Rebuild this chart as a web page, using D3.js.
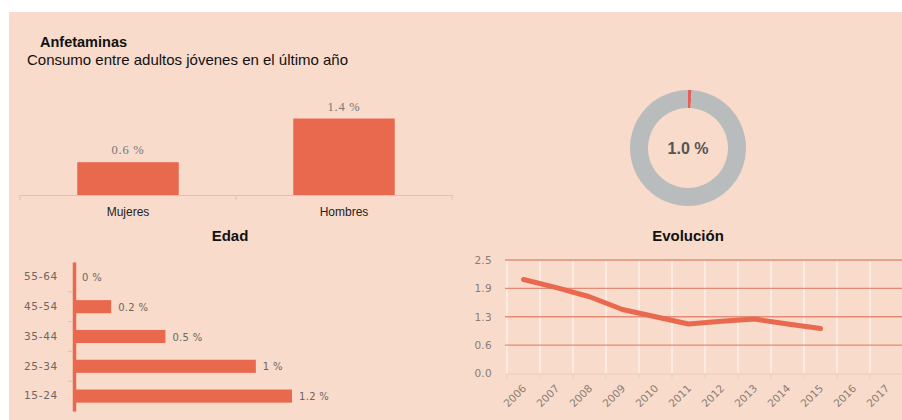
<!DOCTYPE html>
<html><head><meta charset="utf-8">
<script src="https://cdn.jsdelivr.net/npm/d3@7/dist/d3.min.js"></script>
<style>
html,body{margin:0;padding:0;background:#fff;}
svg{display:block;}
</style></head>
<body>
<script>
// ---- data ----
const title = "Anfetaminas";
const subtitle = "Consumo entre adultos jóvenes en el último año";
const sexCategories = ["Mujeres", "Hombres"];
const sexValues = [0.6, 1.4];
const sexLabels = ["0.6 %", "1.4 %"];
const donutValue = 1.0;
const donutLabel = "1.0 %";
const ageCategories = ["55-64", "45-54", "35-44", "25-34", "15-24"];
const ageValues = [0, 0.2, 0.5, 1, 1.2];
const ageLabels = ["0 %", "0.2 %", "0.5 %", "1 %", "1.2 %"];
const years = ["2006","2007","2008","2009","2010","2011","2012","2013","2014","2015","2016","2017"];
const evoValues = [2.07, 1.89, 1.69, 1.41, 1.25, 1.09, 1.15, 1.20, 1.09, 0.99, null, null];
const evoTicks = [0, 0.625, 1.25, 1.875, 2.5];
const evoTickLabels = ["0.0", "0.6", "1.3", "1.9", "2.5"];

const W = 902, H = 420;
const BG = "#f8dbcb", BAR = "#e8694e";
const SANS = "Liberation Sans, Arial, sans-serif";
const svg = d3.select("body").append("svg").attr("width", W).attr("height", H);
svg.append("rect").attr("x", 9).attr("y", 12).attr("width", W - 9).attr("height", H - 12).attr("fill", BG);

// titles
svg.append("text").attr("x", 40).attr("y", 47).attr("font-family", SANS)
  .attr("font-weight", "bold").attr("font-size", 14.5).attr("fill", "#111").text(title);
svg.append("text").attr("x", 27).attr("y", 65).attr("font-family", SANS)
  .attr("font-size", 15).attr("fill", "#111").text(subtitle);

// ---- sex bar chart ----
const xs = d3.scaleBand().domain(sexCategories).range([20, 452]).paddingInner(0.53).paddingOuter(0.265);
const ys = d3.scaleLinear().domain([0, 1.6]).range([195, 107.6]);
const gs = svg.append("g");
gs.selectAll("rect.b").data(sexValues).join("rect").attr("class", "b")
  .attr("x", (d, i) => xs(sexCategories[i])).attr("width", xs.bandwidth())
  .attr("y", d => ys(d)).attr("height", d => ys(0) - ys(d)).attr("fill", BAR);
const axS = d3.axisBottom(xs).tickSize(0).tickPadding(12);
const gax = gs.append("g").attr("transform", "translate(0,195)").call(axS);
gax.select(".domain").attr("stroke", "#d9c3b8").attr("stroke-width", 1);
gax.selectAll("text").attr("font-family", SANS).attr("font-size", 12).attr("fill", "#222");
// tick separators
[20, 236, 452].forEach(x => gs.append("line").attr("x1", x).attr("x2", x).attr("y1", 195).attr("y2", 200).attr("stroke", "#d9c3b8"));
gs.selectAll("text.v").data(sexValues).join("text").attr("class", "v")
  .attr("x", (d, i) => xs(sexCategories[i]) + xs.bandwidth() / 2).attr("y", d => ys(d) - 8)
  .attr("text-anchor", "middle").attr("font-family", "Liberation Serif, serif").attr("font-size", 12.5)
  .attr("letter-spacing", 0.8).attr("fill", "#777").text((d, i) => sexLabels[i]);

// ---- donut ----
const cx = 688, cy = 148;
const arc = d3.arc().innerRadius(40).outerRadius(58);
const pie = d3.pie().sort(null)([donutValue, 100 - donutValue]);
svg.append("g").attr("transform", `translate(${cx},${cy})`).selectAll("path").data(pie).join("path")
  .attr("d", arc).attr("fill", (d, i) => i === 0 ? "#e0605a" : "#b9bcbc");
svg.append("text").attr("x", cx).attr("y", cy + 6).attr("text-anchor", "middle")
  .attr("font-family", SANS).attr("font-weight", "bold").attr("font-size", 16)
  .attr("fill", "#555").text(donutLabel);

// ---- Edad ----
svg.append("text").attr("x", 230).attr("y", 241).attr("text-anchor", "middle")
  .attr("font-family", SANS).attr("font-weight", "bold").attr("font-size", 15)
  .attr("fill", "#111").text("Edad");
const xa = d3.scaleLinear().domain([0, 1.2]).range([75, 292]);
const ya = d3.scaleBand().domain(ageCategories).range([262, 411]).paddingInner(0.56).paddingOuter(0.28);
const ga = svg.append("g");
ga.selectAll("rect").data(ageValues).join("rect")
  .attr("x", xa(0)).attr("y", (d, i) => ya(ageCategories[i])).attr("height", ya.bandwidth())
  .attr("width", d => xa(d) - xa(0)).attr("fill", BAR);
const axA = d3.axisLeft(ya).tickSize(0).tickPadding(16);
const gaa = ga.append("g").attr("transform", `translate(${xa(0) - 1},0)`).call(axA);
gaa.select(".domain").attr("stroke", BAR).attr("stroke-width", 3.5);
gaa.selectAll("text").attr("font-family", "DejaVu Sans, sans-serif").attr("font-size", 10.5)
  .attr("letter-spacing", 0.7).attr("fill", "#6e6661");
// small separators
ageCategories.slice(1).forEach(c => ga.append("line").attr("x1", 68).attr("x2", 73)
  .attr("y1", ya(c) - ya.step() * ya.paddingInner() / 2).attr("y2", ya(c) - ya.step() * ya.paddingInner() / 2)
  .attr("stroke", "#d9c3b8"));
ga.selectAll("text.v").data(ageValues).join("text").attr("class", "v")
  .attr("x", d => xa(d) + 7).attr("y", (d, i) => ya(ageCategories[i]) + ya.bandwidth() / 2 + 4)
  .attr("font-family", "DejaVu Sans, sans-serif").attr("font-size", 10).attr("letter-spacing", 0.3)
  .attr("fill", "#6e6661").text((d, i) => ageLabels[i]);

// ---- Evolución ----
svg.append("text").attr("x", 688).attr("y", 241).attr("text-anchor", "middle")
  .attr("font-family", SANS).attr("font-weight", "bold").attr("font-size", 15)
  .attr("fill", "#111").text("Evolución");
const xe = d3.scaleBand().domain(years).range([507, 903]);
const ye = d3.scaleLinear().domain([0, 2.5]).range([373.5, 260]);
const ge = svg.append("g");
// vertical white grid
ge.selectAll("line.vg").data(years).join("line").attr("class", "vg")
  .attr("x1", d => xe(d)).attr("x2", d => xe(d)).attr("y1", 260).attr("y2", 373.5)
  .attr("stroke", "#fdf0ea").attr("stroke-width", 1.5);
// horizontal grid
ge.selectAll("line.hg").data(evoTicks.slice(1)).join("line").attr("class", "hg")
  .attr("x1", 505).attr("x2", W).attr("y1", d => ye(d)).attr("y2", d => ye(d))
  .attr("stroke", "#e38b77").attr("stroke-width", 1.3);
// y axis labels
const axY = d3.axisLeft(ye).tickValues(evoTicks).tickFormat((d, i) => evoTickLabels[i]).tickSize(0).tickPadding(15);
const gey = ge.append("g").attr("transform", "translate(507,0)").call(axY);
gey.select(".domain").remove();
gey.selectAll("text").attr("font-family", "DejaVu Sans, sans-serif").attr("font-size", 10.5)
  .attr("letter-spacing", 0.3).attr("fill", "#8a7d76");
// x axis
const axX = d3.axisBottom(xe).tickSize(0).tickPadding(0);
const gex = ge.append("g").attr("transform", "translate(0,373.5)").call(axX);
gex.select(".domain").attr("stroke", "#e8cdbf").attr("stroke-width", 1);
gex.selectAll("text").attr("font-family", "DejaVu Sans, sans-serif").attr("font-size", 10.5)
  .attr("fill", "#8a7d76").attr("text-anchor", "end")
  .attr("transform", "translate(-1,11) rotate(-45)").attr("dy", "0.6em");
years.concat(["end"]).forEach((y, i) => {
  const x = 507 + i * xe.step();
  ge.append("line").attr("x1", x).attr("x2", x).attr("y1", 373.5).attr("y2", 379).attr("stroke", "#e8cdbf");
});
// line
const line = d3.line().defined(d => d != null).x((d, i) => xe(years[i]) + xe.bandwidth() / 2).y(d => ye(d));
ge.append("path").datum(evoValues).attr("d", line).attr("fill", "none").attr("stroke", BAR)
  .attr("stroke-width", 5).attr("stroke-linejoin", "round").attr("stroke-linecap", "round");
</script>
</body></html>
